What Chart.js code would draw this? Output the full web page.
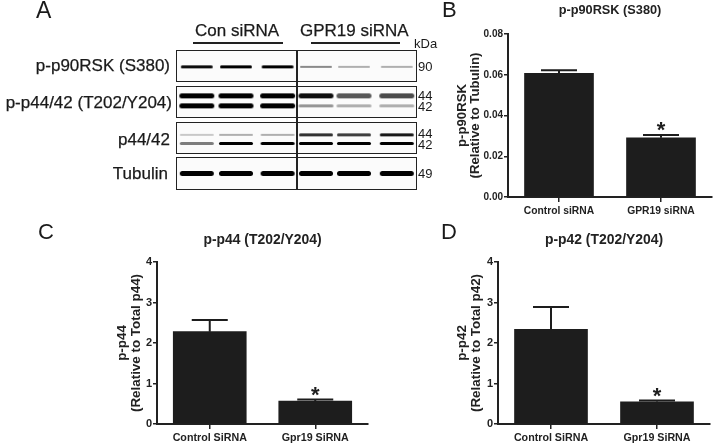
<!DOCTYPE html>
<html>
<head>
<meta charset="utf-8">
<script src="https://cdn.jsdelivr.net/npm/chart.js@4"></script>
<style>
	html, body { margin: 0; padding: 0; background: #fff; }
	#page { position: absolute; left: 0; top: 0; width: 714px; height: 446px; overflow: hidden; filter: blur(0.35px);
		font-family: "Liberation Sans", Arial, sans-serif; color: #1a1a1a; }
	#page canvas, .t, .box, .rule { position: absolute; }
	.t { white-space: nowrap; line-height: 1; }
	.r { text-align: right; }
	.box { border: 1.5px solid #222; box-sizing: border-box; left: 176px; width: 241px; background: #fbfbfb; }
	.rule { background: #222; }
	.letter { font-size: 22px; }
	.blot { font-size: 17px; -webkit-text-stroke: 0.25px #1a1a1a; }
	.kda { font-size: 13px; }
</style>
</head>
<body>
<div id="page">
	<div class="t letter" style="left:36px;top:-1px;font-size:23px">A</div>
	<div class="t letter" style="left:442px;top:-1px">B</div>
	<div class="t letter" style="left:38px;top:221px">C</div>
	<div class="t letter" style="left:441px;top:221px">D</div>

	<div class="t blot" style="left:195px;top:22px">Con siRNA</div>
	<div class="t blot" style="left:300px;top:22px">GPR19 siRNA</div>
	<div class="rule" style="left:193px;top:42px;width:90px;height:2px"></div>
	<div class="rule" style="left:311px;top:42px;width:89px;height:2px"></div>
	<div class="t kda" style="left:414px;top:37px">kDa</div>

	<div class="t blot r" style="right:544px;top:57px">p-p90RSK (S380)</div>
	<div class="t blot r" style="right:542px;top:94px">p-p44/42 (T202/Y204)</div>
	<div class="t blot r" style="right:544px;top:131px">p44/42</div>
	<div class="t blot r" style="right:546px;top:165px">Tubulin</div>

	<div class="box" style="top:50px;height:32px"></div>
	<div class="box" style="top:86px;height:32px"></div>
	<div class="box" style="top:122px;height:32px"></div>
	<div class="box" style="top:157px;height:33px"></div>
	<div class="rule" style="left:296px;top:50px;width:1.5px;height:140px"></div>

	<div class="t kda" style="left:418px;top:60px">90</div>
	<div class="t kda" style="left:418px;top:89px">44</div>
	<div class="t kda" style="left:418px;top:100px">42</div>
	<div class="t kda" style="left:418px;top:127px">44</div>
	<div class="t kda" style="left:418px;top:138px">42</div>
	<div class="t kda" style="left:418px;top:167px">49</div>

	<canvas id="blot" style="left:176px;top:51px"></canvas>
	<canvas id="chart-b" style="left:455px;top:0"></canvas>
	<canvas id="chart-c" style="left:115px;top:224px"></canvas>
	<canvas id="chart-d" style="left:455px;top:224px"></canvas>
</div>
<script>
// panel B
const bCategories = ['Control siRNA', 'GPR19 siRNA'];
const bValues = [0.0607, 0.0291];
const bErrors = [0.0015, 0.0013];
const bStars = ['', '*'];
const bTicks = [0, 0.02, 0.04, 0.06, 0.08];

// panel C
const cCategories = ['Control SiRNA', 'Gpr19 SiRNA'];
const cValues = [2.28, 0.566];
const cErrors = [0.29, 0.04];
const cStars = ['', '*'];
const cTicks = [0, 1, 2, 3, 4];

// panel D
const dCategories = ['Control SiRNA', 'Gpr19 SiRNA'];
const dValues = [2.34, 0.55];
const dErrors = [0.55, 0.03];
const dStars = ['', '*'];
const dTicks = [0, 1, 2, 3, 4];

// blot band darkness, one value per lane
const lanes = [0.52, 1.5, 2.54, 3.5, 4.45, 5.52];
const bandP90 = [0.95, 1, 1, 0.45, 0.3, 0.3];
const bandP44 = [1, 1, 1, 0.95, 0.65, 0.7];
const bandP42 = [1, 1, 1, 0.4, 0.3, 0.3];
const bandT44 = [0.2, 0.3, 0.3, 0.8, 0.75, 0.9];
const bandT42 = [0.5, 1, 1, 1, 1, 1];
const bandTub = [1, 1, 1, 1, 1, 1];

const ink = '#1d1d1d';

// error bars and stars, read through the scales
const errorPlugin = {
	id: 'errorBars',
	afterDatasetsDraw(chart, args, opts) {
		const ctx = chart.ctx;
		const y = chart.scales.y;
		chart.getDatasetMeta(0).data.forEach((bar, i) => {
			const v = chart.data.datasets[0].data[i];
			const top = y.getPixelForValue(v + opts.errors[i]);
			ctx.save();
			ctx.strokeStyle = ink;
			ctx.lineWidth = 2;
			ctx.beginPath();
			ctx.moveTo(bar.x, bar.y);
			ctx.lineTo(bar.x, top);
			ctx.moveTo(bar.x - 18, top);
			ctx.lineTo(bar.x + 18, top);
			ctx.stroke();
			if (opts.stars[i]) {
				ctx.fillStyle = ink;
				ctx.font = 'bold 22px "Liberation Sans"';
				ctx.textAlign = 'center';
				ctx.textBaseline = 'top';
				ctx.fillText(opts.stars[i], bar.x, top - 15);
			}
			ctx.restore();
		});
	}
};

// centre the title over the axes, not over the canvas
const titlePlugin = {
	id: 'titleOverAxes',
	afterLayout(chart) {
		chart.titleBlock.left = chart.chartArea.left;
		chart.titleBlock.right = chart.chartArea.right;
	}
};

function barPanel(id, cats, values, errors, stars, ticks, title, yTitle, fmt, fit) {
	new Chart(document.getElementById(id), {
		type: 'bar',
		data: {
			labels: cats,
			datasets: [{ data: values, backgroundColor: ink, barThickness: fit.bar }]
		},
		options: {
			responsive: false,
			animation: false,
			devicePixelRatio: 1,
			layout: { padding: { left: 0, right: fit.right, top: fit.top, bottom: 0 } },
			plugins: {
				legend: { display: false },
				tooltip: { enabled: false },
				title: {
					display: true,
					text: title,
					color: '#222',
					font: { family: 'Liberation Sans', size: fit.titleSize, weight: 'bold' },
					padding: { top: 0, bottom: fit.titleGap }
				},
				errorBars: { errors: errors, stars: stars }
			},
			scales: {
				x: {
					offset: true,
					afterFit: s => { s.height = fit.xHeight; },
					grid: { drawOnChartArea: false, offset: false, color: '#222', lineWidth: 1.5, tickLength: 5 },
					border: { color: '#222', width: 2 },
					ticks: {
						color: '#222', maxRotation: 0, padding: 3,
						font: { family: 'Liberation Sans', size: fit.catSize, weight: 'bold' }
					}
				},
				y: {
					min: ticks[0],
					max: ticks[ticks.length - 1],
					afterFit: s => { s.width = fit.yWidth; },
					afterBuildTicks: s => { s.ticks = ticks.map(v => ({ value: v })); },
					grid: { drawOnChartArea: false, color: '#222', lineWidth: 1.5, tickLength: 4 },
					border: { color: '#222', width: 2 },
					ticks: {
						color: '#222', padding: 1,
						font: { family: 'Liberation Sans', size: fit.tickSize, weight: 'bold' },
						callback: fmt
					},
					title: {
						display: true,
						text: yTitle,
						color: '#222',
						padding: 0,
						font: { family: 'Liberation Sans', size: fit.yTitleSize, weight: 'bold', lineHeight: 1.05 }
					}
				}
			}
		},
		plugins: [errorPlugin, titlePlugin]
	});
}

function sizeCanvas(id, w, h) {
	const el = document.getElementById(id);
	el.width = w;
	el.height = h;
}

sizeCanvas('chart-b', 259, 220);
sizeCanvas('chart-c', 255, 222);
sizeCanvas('chart-d', 259, 222);

barPanel('chart-b', bCategories, bValues, bErrors, bStars, bTicks,
	'p-p90RSK (S380)', ['p-p90RSK', '(Relative to Tubulin)'], v => v.toFixed(2),
	{ bar: 69, right: 2, top: 3, titleSize: 12.75, titleGap: 15.7, xHeight: 23, yWidth: 53, catSize: 10.3, tickSize: 10, yTitleSize: 13.2 });
barPanel('chart-c', cCategories, cValues, cErrors, cStars, cTicks,
	'p-p44 (T202/Y204)', ['p-p44', '(Relative to Total p44)'], v => String(v),
	{ bar: 73, right: 2, top: 8, titleSize: 13.9, titleGap: 13.3, xHeight: 22, yWidth: 42, catSize: 10.7, tickSize: 11, yTitleSize: 13.4 });
barPanel('chart-d', dCategories, dValues, dErrors, dStars, dTicks,
	'p-p42 (T202/Y204)', ['p-p42', '(Relative to Total p42)'], v => String(v),
	{ bar: 73, right: 4, top: 8, titleSize: 13.9, titleGap: 13.3, xHeight: 22, yWidth: 43, catSize: 10.7, tickSize: 11, yTitleSize: 13.4 });

// soft band sprite for the blot
function bandSprite(dark, len, thick) {
	const c = document.createElement('canvas');
	c.width = len + 10;
	c.height = thick + 10;
	const g = c.getContext('2d');
	g.filter = 'blur(0.6px)';
	g.strokeStyle = 'rgba(0,0,0,' + dark + ')';
	g.lineWidth = thick;
	g.lineCap = 'round';
	g.beginPath();
	g.moveTo(5 + thick / 2, c.height / 2);
	g.lineTo(c.width - 5 - thick / 2, c.height / 2);
	g.stroke();
	return c;
}

// row position on the blot's 0-4 scale, band length and thickness
const blotRows = [
	{ band: bandP90, y: 0.46, len: 32, thick: 3 },
	{ band: bandP44, y: 1.30, len: 35, thick: 5 },
	{ band: bandP42, y: 1.59, len: 35, thick: 5 },
	{ band: bandT44, y: 2.43, len: 34, thick: 3 },
	{ band: bandT42, y: 2.68, len: 34, thick: 3 },
	{ band: bandTub, y: 3.55, len: 34, thick: 5 }
];

sizeCanvas('blot', 240, 138);
new Chart(document.getElementById('blot'), {
	type: 'scatter',
	data: {
		datasets: blotRows.map(row => ({
			data: lanes.map(x => ({ x: x, y: row.y })),
			pointStyle: row.band.map(d => bandSprite(d, row.len, d < 0.5 ? Math.max(row.thick - 2, 2) : row.thick))
		}))
	},
	options: {
		responsive: false,
		animation: false,
		devicePixelRatio: 1,
		layout: { padding: 0, autoPadding: false },
		plugins: { legend: { display: false }, tooltip: { enabled: false } },
		scales: {
			x: { display: false, min: 0, max: 6 },
			y: { display: false, min: 0, max: 4, reverse: true }
		}
	}
});
</script>
</body>
</html>
